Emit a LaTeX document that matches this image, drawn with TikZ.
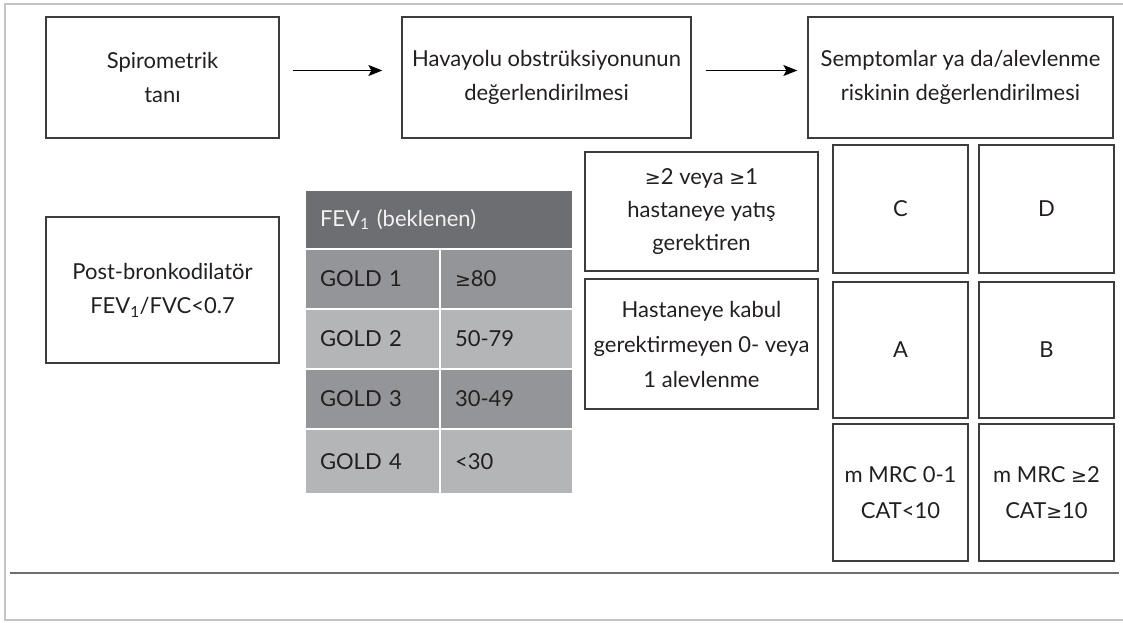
\documentclass[tikz,border=0pt]{standalone}
\usepackage{fontspec}
\setmainfont{Lato}
\newfontfamily\symfont{DejaVu Sans}
\usetikzlibrary{arrows.meta}
\definecolor{boxline}{HTML}{3C3C3C}
\definecolor{txt}{HTML}{231F20}
\definecolor{hdr}{HTML}{6D6E71}
\definecolor{rowdark}{HTML}{939598}
\definecolor{rowlight}{HTML}{B3B5B7}
\definecolor{framegray}{HTML}{C4C4C4}
\definecolor{rulegray}{HTML}{6D6E71}
\newcommand{\gesym}{{\symfont\fontsize{19}{19}\selectfont ≥}}
\begin{document}
\begin{tikzpicture}[x=1pt,y=-1pt,
  box/.style={draw=boxline, line width=1.3pt, align=center, inner sep=0pt, text=txt, font=\fontsize{22}{34}\selectfont},
  cell/.style={anchor=north west, draw=white, line width=2pt, inner xsep=15pt, inner ysep=0pt, text=txt, font=\fontsize{22}{30}\selectfont, align=left},
  flow/.style={line width=1.2pt, draw=black, -{Stealth[length=14pt,width=11pt,inset=3pt]}}
]
\useasboundingbox (0,0) rectangle (1123,622);
\draw[framegray, line width=2pt] (1130,4) -- (5,4) -- (5,620) -- (1130,620);
% top row
\node[box, minimum width=233, minimum height=121] (spiro) at (162.5,77.5) {Spirometrik\\tanı};
\node[box, minimum width=289, minimum height=121] (hava) at (546.5,77.5) {Havayolu obstrüksiyonunun\\değerlendirilmesi};
\node[box, minimum width=305, minimum height=121] (semp) at (960.5,77.5) {Semptomlar ya da/alevlenme\\riskinin değerlendirilmesi};
\draw[flow, shorten <=13pt, shorten >=19pt] ([yshift=7pt]spiro.east) -- ([yshift=7pt]hava.west);
\draw[flow, shorten <=14pt, shorten >=10pt] ([yshift=7pt]hava.east) -- ([yshift=7pt]semp.west);
% left box
\node[box, minimum width=233, minimum height=146] (post) at (162.5,290) {Post-bronkodilatör\\FEV\textsubscript{1}/FVC<0.7};
% table
\node[cell, fill=hdr, minimum width=268, minimum height=59, text width=238, text=white!95!black] (hdr) at (304,189) {FEV\textsubscript{1} (beklenen)};
\node[cell, fill=rowdark, minimum width=135, minimum height=60, text width=105] (g1) at (304,248) {GOLD 1};
\node[cell, fill=rowdark, minimum width=133, minimum height=60, text width=103] (v1) at (439,248) {\gesym80};
\node[cell, fill=rowlight, minimum width=135, minimum height=60, text width=105] (g2) at (304,308) {GOLD 2};
\node[cell, fill=rowlight, minimum width=133, minimum height=60, text width=103] (v2) at (439,308) {50-79};
\node[cell, fill=rowdark, minimum width=135, minimum height=60, text width=105] (g3) at (304,368) {GOLD 3};
\node[cell, fill=rowdark, minimum width=133, minimum height=60, text width=103] (v3) at (439,368) {30-49};
\node[cell, fill=rowlight, minimum width=135, minimum height=65, text width=105] (g4) at (304,428) {GOLD 4};
\node[cell, fill=rowlight, minimum width=133, minimum height=65, text width=103] (v4) at (439,428) {<30};
% exacerbation boxes
\node[box, minimum width=233, minimum height=119, font=\fontsize{22}{33}\selectfont] (ex1) at (701.5,211.5) {\gesym2 veya \gesym1\\hastaneye yatış\\gerektiren};
\node[box, minimum width=233, minimum height=130, font=\fontsize{22}{35}\selectfont] (ex2) at (701.5,344) {Hastaneye kabul\\gerektirmeyen 0- veya\\1 alevlenme};
% grid
\node[box, minimum width=135, minimum height=128] (C) at (900.5,209) {C};
\node[box, minimum width=135, minimum height=128] (D) at (1046.5,209) {D};
\node[box, minimum width=135, minimum height=136] (A) at (900.5,350) {A};
\node[box, minimum width=135, minimum height=136] (B) at (1046.5,350) {B};
\node[box, minimum width=135, minimum height=137, font=\fontsize{22}{36}\selectfont] (m1) at (900.5,492.5) {m MRC 0-1\\CAT<10};
\node[box, minimum width=135, minimum height=137, font=\fontsize{22}{36}\selectfont] (m2) at (1046.5,492.5) {m MRC \gesym2\\CAT\gesym10};
% bottom rule
\draw[rulegray, line width=2pt] (10,573) -- (1119,573);
\end{tikzpicture}
\end{document}
